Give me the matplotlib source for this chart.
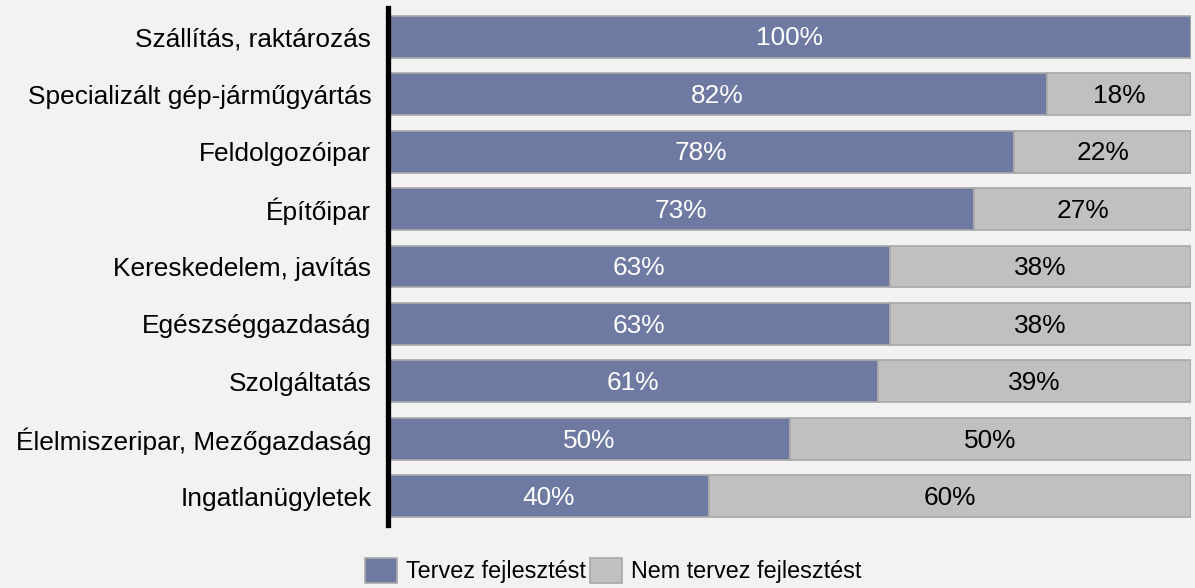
import matplotlib.pyplot as plt
import numpy as np

plt.rcParams['font.family'] = ['Liberation Sans', 'DejaVu Sans']

# categories, top to bottom
categories = [
    "Szállítás, raktározás",
    "Specializált gép-járműgyártás",
    "Feldolgozóipar",
    "Építőipar",
    "Kereskedelem, javítás",
    "Egészséggazdaság",
    "Szolgáltatás",
    "Élelmiszeripar, Mezőgazdaság",
    "Ingatlanügyletek",
]
plans = [100, 82, 78, 73, 62.5, 62.5, 61, 50, 40]
no_plans = [0, 18, 22, 27, 37.5, 37.5, 39, 50, 60]
series_names = ["Tervez fejlesztést", "Nem tervez fejlesztést"]

c_plan = "#6f7aa2"
c_noplan = "#c0c0c0"
edge = "#a8a8a8"
bg = "#f2f2f2"
fs = 18.9

fig = plt.figure(figsize=(11.95, 5.88), dpi=100, facecolor=bg)
ax = fig.add_axes([0.3247, 0.1071, 0.9967 - 0.3247, 0.9864 - 0.1071])
ax.set_facecolor(bg)

y = np.arange(len(categories))
b1 = ax.barh(y, plans, height=0.73, color=c_plan, edgecolor=edge, linewidth=1.2,
             label=series_names[0])
b2 = ax.barh(y, no_plans, left=plans, height=0.73, color=c_noplan, edgecolor=edge,
             linewidth=1.2, label=series_names[1])

for i in range(len(categories)):
    if plans[i] > 0:
        ax.text(plans[i] / 2, y[i] + 0.03, f"{int(plans[i] + 0.5)}%", ha='center', va='center',
                color='white', fontsize=fs)
    if no_plans[i] > 0:
        ax.text(plans[i] + no_plans[i] / 2, y[i] + 0.03, f"{int(no_plans[i] + 0.5)}%",
                ha='center', va='center', color='black', fontsize=fs)

ax.set_xlim(0, 100)
ax.set_ylim(len(categories) - 0.5, -0.5)
ax.set_yticks(y)
ax.set_yticklabels(categories, fontsize=fs)
ax.tick_params(axis='y', length=0, pad=12)
ax.set_xticks([])
for s in ['top', 'right', 'bottom']:
    ax.spines[s].set_visible(False)
ax.spines['left'].set_linewidth(3.8)
ax.spines['left'].set_color('black')

fig.legend(handles=[b1, b2], loc='lower center', bbox_to_anchor=(0.513, -0.028), ncol=2,
           frameon=False, fontsize=16.8, handlelength=1.37, handleheight=1.3,
           handletextpad=0.38, columnspacing=0.17)

fig.savefig("out.png", dpi=100, facecolor=bg)
